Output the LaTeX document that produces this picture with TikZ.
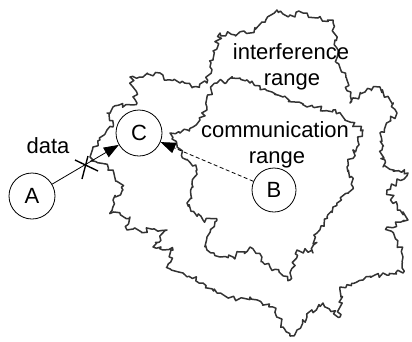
\documentclass[tikz,border=0pt]{standalone}
\usepackage{fontspec}
\setmainfont{Liberation Sans}
\usetikzlibrary{arrows.meta,calc,decorations.pathmorphing}
\begin{document}
\begin{tikzpicture}[x=1pt,y=-1pt,
  lbl/.style={font=\fontsize{22}{26}\selectfont, inner sep=0pt, anchor=base},
  station/.style={draw, circle, line width=0.8pt, minimum size=46pt, inner sep=0pt, font=\fontsize{22}{26}\selectfont},
  rangeline/.style={draw=black!80, line width=1.5pt, line join=round,
     decorate, decoration={random steps, segment length=3pt, amplitude=2.8pt}},
  arr/.style={line width=0.8pt, -{Triangle[length=15pt,width=11pt]}}]
\pgfmathsetseed{7}
\useasboundingbox (0,0) rectangle (412,341);
% interference range (outer)
\path[rangeline] (130,77) -- (143,77) -- (160,73) -- (167,80) -- (180,83) -- (193,87) -- (207,83) -- (210,67) -- (213,60) -- (220,33) -- (235,35) -- (250,33) -- (262,22) -- (277,10) -- (290,15) -- (303,13) -- (318,18) -- (333,20) -- (335,40) -- (337,63) -- (347,80) -- (350,103) -- (365,92) -- (380,87) -- (390,100) -- (397,113) -- (380,133) -- (382,150) -- (383,167) -- (408,173) -- (387,190) -- (400,210) -- (408,220) -- (387,227) -- (400,247) -- (403,257) -- (403,273) -- (383,273) -- (363,280) -- (340,287) -- (340,317) -- (323,303) -- (307,317) -- (297,330) -- (290,336) -- (283,327) -- (273,307) -- (250,297) -- (237,300) -- (217,293) -- (203,283) -- (183,273) -- (167,267) -- (173,250) -- (153,247) -- (167,230) -- (127,230) -- (130,217) -- (110,213) -- (113,200) -- (123,190) -- (113,170) -- (90,157) -- (93,147) -- (100,140) -- (107,130) -- (113,127) -- (107,113) -- (113,107) -- (137,103) -- (133,87) -- cycle;
% communication range (inner)
\path[rangeline] (170,133) -- (180,133) -- (193,127) -- (200,120) -- (207,110) -- (207,97) -- (217,83) -- (228,80) -- (240,78) -- (250,83) -- (260,87) -- (272,92) -- (283,97) -- (295,102) -- (307,107) -- (313,107) -- (333,110) -- (343,117) -- (363,130) -- (357,147) -- (347,167) -- (353,187) -- (333,207) -- (327,217) -- (317,233) -- (313,253) -- (297,250) -- (290,280) -- (270,267) -- (250,247) -- (233,257) -- (220,257) -- (207,250) -- (207,237) -- (217,220) -- (203,220) -- (187,203) -- (193,187) -- (197,170) -- (187,160) -- (177,147) -- cycle;
% labels
\node[lbl] (if1) at (291,59) {interference};
\node[lbl] (if2) at (292,85) {range};
\node[lbl] (cm1) at (275,137) {communication};
\node[lbl] (cm2) at (277,163) {range};
\node[lbl] (dat) at (48,153) {data};
% stations
\node[station, fill=white] (A) at (32,196) {A};
\node[station, fill=white] (C) at (139,133) {C};
\node[station, fill=white, minimum size=44pt] (B) at (274,190) {B};
% connectors
\draw[arr] (A) -- (C);
\draw[arr, dash pattern=on 4pt off 2.5pt] (B) -- (C);
% cross on the data link
\coordinate (X) at (86,168);
\draw[line width=1.4pt] ($(X)+(-11,-8)$) -- ($(X)+(12,3)$);
\draw[line width=1.4pt] ($(X)+(2,-12)$) -- ($(X)+(-4,11)$);
\end{tikzpicture}
\end{document}
